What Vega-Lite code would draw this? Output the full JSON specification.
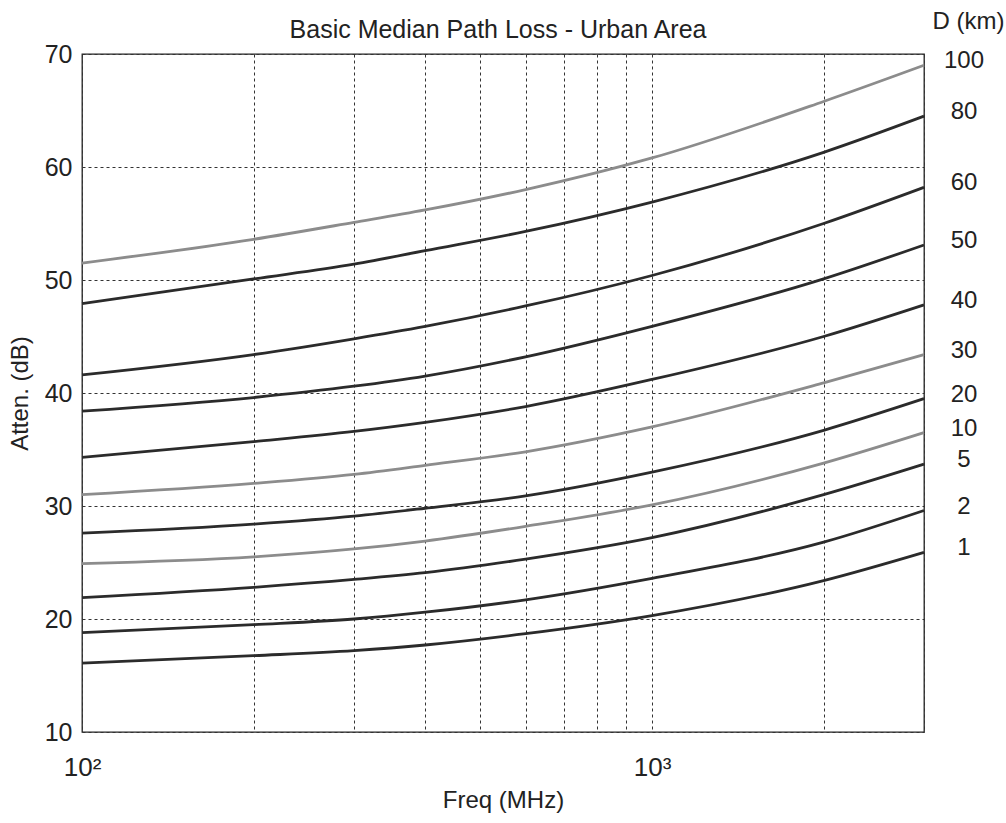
{
  "$schema": "https://vega.github.io/schema/vega-lite/v6.json",
  "width": 842,
  "height": 678,
  "autosize": "none",
  "padding": {"left": 82, "top": 54, "right": 82, "bottom": 91},
  "background": "white",
  "config": {
    "font": "Liberation Sans",
    "view": {"stroke": "#222", "strokeWidth": 1.3}
  },
  "title": {
    "text": "Basic Median Path Loss - Urban Area",
    "fontSize": 25,
    "fontWeight": "normal",
    "color": "#222",
    "anchor": "middle",
    "offset": 14,
    "dy": 48,
    "dx": -5
  },
  "data": {
    "values": [
      {"D": 100, "f": 100, "a": 51.5}, {"D": 100, "f": 200, "a": 53.6}, {"D": 100, "f": 300, "a": 55.1}, {"D": 100, "f": 400, "a": 56.2}, {"D": 100, "f": 600, "a": 58.0}, {"D": 100, "f": 1000, "a": 60.8}, {"D": 100, "f": 2000, "a": 65.8}, {"D": 100, "f": 3000, "a": 69.0},
      {"D": 80, "f": 100, "a": 47.9}, {"D": 80, "f": 200, "a": 50.1}, {"D": 80, "f": 300, "a": 51.4}, {"D": 80, "f": 400, "a": 52.6}, {"D": 80, "f": 600, "a": 54.3}, {"D": 80, "f": 1000, "a": 56.9}, {"D": 80, "f": 2000, "a": 61.3}, {"D": 80, "f": 3000, "a": 64.5},
      {"D": 60, "f": 100, "a": 41.6}, {"D": 60, "f": 200, "a": 43.4}, {"D": 60, "f": 300, "a": 44.8}, {"D": 60, "f": 400, "a": 45.9}, {"D": 60, "f": 600, "a": 47.7}, {"D": 60, "f": 1000, "a": 50.4}, {"D": 60, "f": 2000, "a": 55.0}, {"D": 60, "f": 3000, "a": 58.2},
      {"D": 50, "f": 100, "a": 38.4}, {"D": 50, "f": 200, "a": 39.6}, {"D": 50, "f": 300, "a": 40.6}, {"D": 50, "f": 400, "a": 41.5}, {"D": 50, "f": 600, "a": 43.2}, {"D": 50, "f": 1000, "a": 45.9}, {"D": 50, "f": 2000, "a": 50.1}, {"D": 50, "f": 3000, "a": 53.1},
      {"D": 40, "f": 100, "a": 34.3}, {"D": 40, "f": 200, "a": 35.7}, {"D": 40, "f": 300, "a": 36.6}, {"D": 40, "f": 400, "a": 37.4}, {"D": 40, "f": 600, "a": 38.8}, {"D": 40, "f": 1000, "a": 41.2}, {"D": 40, "f": 2000, "a": 45.0}, {"D": 40, "f": 3000, "a": 47.8},
      {"D": 30, "f": 100, "a": 31.0}, {"D": 30, "f": 200, "a": 32.0}, {"D": 30, "f": 300, "a": 32.8}, {"D": 30, "f": 400, "a": 33.6}, {"D": 30, "f": 600, "a": 34.8}, {"D": 30, "f": 1000, "a": 37.0}, {"D": 30, "f": 2000, "a": 40.9}, {"D": 30, "f": 3000, "a": 43.4},
      {"D": 20, "f": 100, "a": 27.6}, {"D": 20, "f": 200, "a": 28.4}, {"D": 20, "f": 300, "a": 29.1}, {"D": 20, "f": 400, "a": 29.8}, {"D": 20, "f": 600, "a": 30.9}, {"D": 20, "f": 1000, "a": 33.0}, {"D": 20, "f": 2000, "a": 36.7}, {"D": 20, "f": 3000, "a": 39.5},
      {"D": 10, "f": 100, "a": 24.9}, {"D": 10, "f": 200, "a": 25.5}, {"D": 10, "f": 300, "a": 26.2}, {"D": 10, "f": 400, "a": 26.9}, {"D": 10, "f": 600, "a": 28.2}, {"D": 10, "f": 1000, "a": 30.1}, {"D": 10, "f": 2000, "a": 33.8}, {"D": 10, "f": 3000, "a": 36.5},
      {"D": 5, "f": 100, "a": 21.9}, {"D": 5, "f": 200, "a": 22.8}, {"D": 5, "f": 300, "a": 23.5}, {"D": 5, "f": 400, "a": 24.1}, {"D": 5, "f": 600, "a": 25.3}, {"D": 5, "f": 1000, "a": 27.2}, {"D": 5, "f": 2000, "a": 31.0}, {"D": 5, "f": 3000, "a": 33.7},
      {"D": 2, "f": 100, "a": 18.8}, {"D": 2, "f": 200, "a": 19.5}, {"D": 2, "f": 300, "a": 20.0}, {"D": 2, "f": 400, "a": 20.6}, {"D": 2, "f": 600, "a": 21.7}, {"D": 2, "f": 1000, "a": 23.6}, {"D": 2, "f": 2000, "a": 26.8}, {"D": 2, "f": 3000, "a": 29.6},
      {"D": 1, "f": 100, "a": 16.1}, {"D": 1, "f": 200, "a": 16.75}, {"D": 1, "f": 300, "a": 17.2}, {"D": 1, "f": 400, "a": 17.7}, {"D": 1, "f": 600, "a": 18.7}, {"D": 1, "f": 1000, "a": 20.3}, {"D": 1, "f": 2000, "a": 23.4}, {"D": 1, "f": 3000, "a": 25.9}
    ]
  },
  "layer": [
    {
      "mark": {"type": "line", "interpolate": "monotone"},
      "encoding": {
        "x": {
          "field": "f",
          "type": "quantitative",
          "scale": {"type": "log", "domain": [100, 3000], "nice": false},
          "axis": {
            "values": [100, 200, 300, 400, 500, 600, 700, 800, 900, 1000, 2000, 3000],
            "labelExpr": "datum.value == 100 ? '10²' : datum.value == 1000 ? '10³' : ''",
            "grid": true,
            "gridDash": [3, 3],
            "gridColor": "#333",
            "gridWidth": 1,
            "tickSize": 0,
            "domain": false,
            "labelFontSize": 26,
            "labelColor": "#222",
            "labelPadding": 22,
            "labelFlush": false,
            "labelOverlap": false,
            "title": "Freq (MHz)",
            "titleFontSize": 24,
            "titleFontWeight": "normal",
            "titleColor": "#222",
            "titlePadding": 8
          }
        },
        "y": {
          "field": "a",
          "type": "quantitative",
          "scale": {"domain": [10, 70], "nice": false},
          "axis": {
            "values": [10, 20, 30, 40, 50, 60, 70],
            "grid": true,
            "gridDash": [3, 3],
            "gridColor": "#333",
            "gridWidth": 1,
            "tickSize": 0,
            "domain": false,
            "labelFontSize": 25,
            "labelColor": "#222",
            "labelPadding": 10,
            "title": "Atten. (dB)",
            "titleFontSize": 24,
            "titleFontWeight": "normal",
            "titleColor": "#222",
            "titlePadding": 12
          }
        },
        "detail": {"field": "D", "type": "nominal"},
        "color": {
          "field": "D",
          "type": "nominal",
          "scale": {
            "domain": [1, 2, 5, 10, 20, 30, 40, 50, 60, 80, 100],
            "range": ["#2b2b2b", "#2b2b2b", "#2b2b2b", "#8c8c8c", "#2b2b2b", "#8c8c8c", "#2b2b2b", "#2b2b2b", "#2b2b2b", "#2b2b2b", "#8c8c8c"]
          },
          "legend": null
        },
        "strokeWidth": {
          "field": "D",
          "type": "ordinal",
          "scale": {
            "domain": [1, 2, 5, 10, 20, 30, 40, 50, 60, 80, 100],
            "range": [2.8, 2.8, 2.8, 1.9, 2.8, 1.9, 2.8, 2.8, 2.8, 2.8, 1.9]
          },
          "legend": null
        }
      }
    },
    {
      "transform": [{"filter": "datum.f == 3000"}],
      "mark": {"type": "text", "dx": 40, "dy": -4, "fontSize": 24, "align": "center", "baseline": "middle", "color": "#222"},
      "encoding": {
        "x": {"field": "f", "type": "quantitative"},
        "y": {
          "field": "a",
          "type": "quantitative",
          "axis": {
            "orient": "right",
            "labels": false,
            "ticks": false,
            "domain": false,
            "grid": false,
            "title": "D (km)",
            "titleAngle": 0,
            "titleX": 44,
            "titleY": -26,
            "titleAlign": "center",
            "titleBaseline": "alphabetic",
            "titleFontSize": 24,
            "titleFontWeight": "normal",
            "titleColor": "#222"
          }
        },
        "text": {"field": "D", "type": "quantitative"}
      }
    }
  ],
  "resolve": {"axis": {"y": "independent"}}
}
